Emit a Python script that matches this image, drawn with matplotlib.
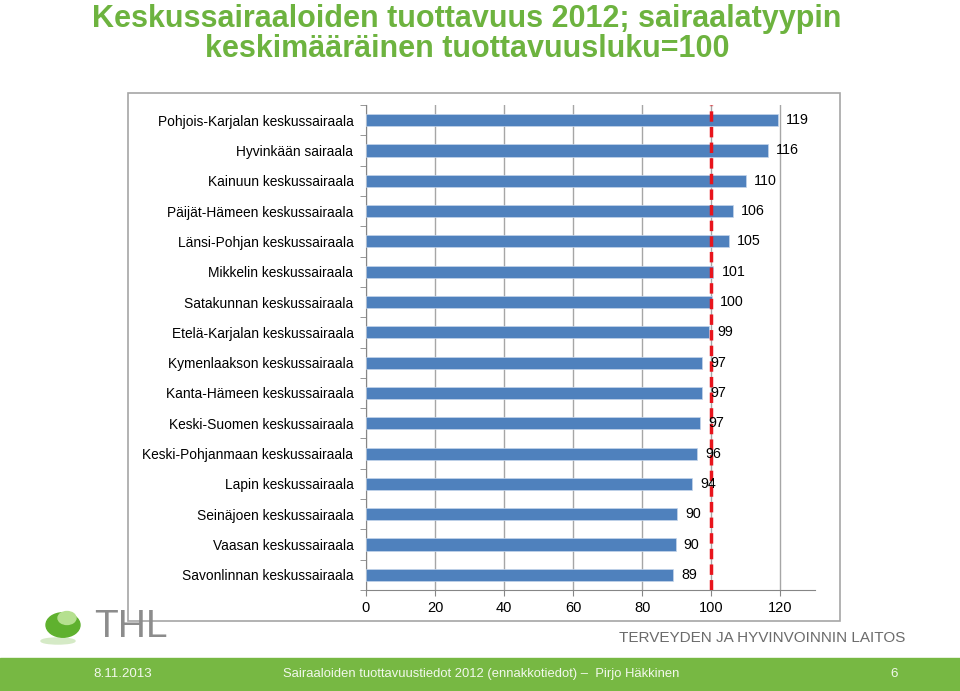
import numpy as np
import matplotlib
matplotlib.use('Agg')
import matplotlib.pyplot as plt
from matplotlib.patches import Rectangle, Circle, Ellipse

plt.rcParams['font.family'] = ['Liberation Sans', 'DejaVu Sans']

# sairaalat ja tuottavuusluvut (ylhäältä alas)
hospitals = [
    'Pohjois-Karjalan keskussairaala',
    'Hyvinkään sairaala',
    'Kainuun keskussairaala',
    'Päijät-Hämeen keskussairaala',
    'Länsi-Pohjan keskussairaala',
    'Mikkelin keskussairaala',
    'Satakunnan keskussairaala',
    'Etelä-Karjalan keskussairaala',
    'Kymenlaakson keskussairaala',
    'Kanta-Hämeen keskussairaala',
    'Keski-Suomen keskussairaala',
    'Keski-Pohjanmaan keskussairaala',
    'Lapin keskussairaala',
    'Seinäjoen keskussairaala',
    'Vaasan keskussairaala',
    'Savonlinnan keskussairaala',
]
values = [119.4, 116.4, 109.9, 106.3, 105.1, 100.6, 100.2, 99.4,
          97.4, 97.3, 96.7, 95.9, 94.4, 90.1, 89.7, 88.9]
xticks = [0, 20, 40, 60, 80, 100, 120]
reference = 100

W, H = 960, 691
fig = plt.figure(figsize=(W / 100, H / 100), dpi=100)

def fx(px):
    return px / W

def fy(py):
    return 1 - py / H

# otsikko
title_green = '#6db33f'
fig.text(fx(467), fy(27), 'Keskussairaaloiden tuottavuus 2012; sairaalatyypin',
         fontsize=22, fontweight='bold', color=title_green, va='baseline', ha='center')
fig.text(fx(467), fy(57), 'keskimääräinen tuottavuusluku=100',
         fontsize=22, fontweight='bold', color=title_green, va='baseline', ha='center')

# kaavion kehys
fig.patches.append(Rectangle((fx(128), fy(621)), fx(840 - 128), (621 - 93) / H,
                             transform=fig.transFigure, fill=False,
                             edgecolor='#a6a6a6', lw=1.2, zorder=0))

ax = fig.add_axes([fx(366), fy(590), fx(815 - 366), (590 - 105) / H])
y = np.arange(len(hospitals))
ax.barh(y, values, height=0.4, color='#4f81bd', edgecolor='#c5d5ea', lw=0.5, zorder=3)
ax.set_ylim(len(hospitals) - 0.5, -0.5)
ax.set_xlim(0, 130)
ax.set_yticks(y)
ax.set_yticklabels(hospitals, fontsize=9.9)
ax.set_yticks(np.arange(len(hospitals) + 1) - 0.5, minor=True)
ax.tick_params(axis='y', which='major', length=0, pad=9)
ax.tick_params(axis='y', which='minor', length=4, color='#868686')
ax.set_xticks(xticks)
ax.tick_params(axis='x', length=4, color='#868686', labelsize=10.5, pad=4)
ax.xaxis.grid(True, color='#a6a6a6', lw=1)
ax.set_axisbelow(True)
for s in ['top', 'right']:
    ax.spines[s].set_visible(False)
for s in ['left', 'bottom']:
    ax.spines[s].set_color('#868686')

for yi, v in zip(y, values):
    ax.text(v + 2.3, yi, f'{int(v + 0.5)}', va='center', ha='left', fontsize=10.3, zorder=5)

ax.axvline(reference, color='#e8141c', lw=2.5, ls=(0, (3, 1.5)), zorder=4)

# THL-logo
fig.patches.append(Ellipse((fx(58), fy(641)), fx(34), 6 / H, transform=fig.transFigure,
                           color='#d5eac6', zorder=1))
fig.patches.append(Circle((fx(63), fy(625)), fx(17), transform=fig.transFigure,
                          color='#5fb12e', zorder=2))
fig.patches.append(Circle((fx(67), fy(618)), fx(9), transform=fig.transFigure,
                          color='#b5e08f', zorder=3))
fig.text(fx(94), fy(627), 'THL', fontsize=28, color='#8c8c8c', va='center', ha='left')

fig.text(fx(905), fy(638), 'TERVEYDEN JA HYVINVOINNIN LAITOS', fontsize=11,
         color='#6b6b6b', va='center', ha='right',
         family=['Liberation Sans Narrow', 'Liberation Sans'])

# alapalkki
fig.patches.append(Rectangle((0, 0), 1, (691 - 658) / H, transform=fig.transFigure,
                             color='#77b843', zorder=0))
footer_color = '#f2f8ec'
fig.text(fx(93), fy(674), '8.11.2013', fontsize=9.6, color=footer_color, va='center')
fig.text(fx(481), fy(674), 'Sairaaloiden tuottavuustiedot 2012 (ennakkotiedot) –  Pirjo Häkkinen',
         fontsize=9.4, color=footer_color, va='center', ha='center')
fig.text(fx(894), fy(674), '6', fontsize=9.6, color=footer_color, va='center', ha='center')

fig.savefig('out.png', dpi=100)
